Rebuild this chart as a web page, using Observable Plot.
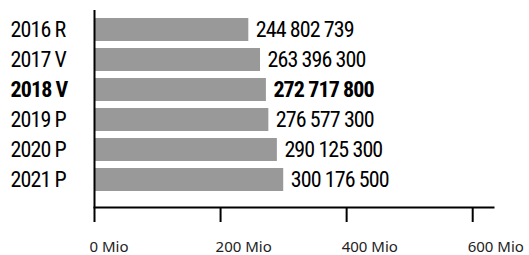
<!DOCTYPE html>
<html>
<head>
<meta charset="utf-8">
<script src="https://cdn.jsdelivr.net/npm/d3@7"></script>
<script src="https://cdn.jsdelivr.net/npm/@observablehq/plot@0.6"></script>
<style>
  html, body { margin: 0; padding: 0; background: #fff; }
  #chart svg g[aria-label="text"] text { font-stretch: condensed; letter-spacing: -0.9px; }
</style>
</head>
<body>
<div id="chart"></div>
<script>
const categories = ["2016 R", "2017 V", "2018 V", "2019 P", "2020 P", "2021 P"];
const values = [244802739, 263396300, 272717800, 276577300, 290125300, 300176500];
const highlighted = ["2018 V"];
const xTicks = [0, 200e6, 400e6, 600e6];

const data = categories.map((c, i) => ({cat: c, value: values[i], bold: highlighted.includes(c)}));
const fmt = v => d3.format(",")(v).replace(/,/g, " ");
const condensed = "Roboto, 'DejaVu Sans', sans-serif";

const chart = Plot.plot({
  width: 529,
  height: 255,
  marginLeft: 94,
  marginRight: 36,
  marginTop: 10,
  marginBottom: 48,
  style: {background: "#fff", overflow: "visible"},
  x: {domain: [0, 633e6], axis: null},
  y: {domain: categories, paddingInner: 0.24, paddingOuter: 0.362, align: 0.32, axis: null},
  marks: [
    Plot.barX(data, {x: "value", y: "cat", fill: "#999999"}),
    Plot.ruleX([0], {stroke: "#000", strokeWidth: 2}),
    Plot.frame({anchor: "bottom", stroke: "#000", strokeWidth: 2}),
    Plot.axisX({ticks: xTicks, tickSize: 15, strokeWidth: 2, stroke: "#000", label: null,
      tickFormat: () => ""}),
    Plot.axisX({ticks: xTicks, tickSize: 0, tickPadding: 34, label: null,
      tickFormat: d => (d / 1e6) + " Mio", fontSize: 15, fill: "#222", textAnchor: "start", dx: -5,
      fontFamily: "'Noto Sans', 'DejaVu Sans', sans-serif"}),
    Plot.text(data.filter(d => !d.bold), {y: "cat", text: "cat", frameAnchor: "left", textAnchor: "start", dx: -84,
      fontSize: 22, fontFamily: condensed, fill: "#000"}),
    Plot.text(data.filter(d => d.bold), {y: "cat", text: "cat", frameAnchor: "left", textAnchor: "start", dx: -84,
      fontSize: 22, fontWeight: "bold", fontFamily: condensed, fill: "#000"}),
    Plot.text(data.filter(d => !d.bold), {x: "value", y: "cat", text: d => fmt(d.value), textAnchor: "start", dx: 7,
      fontSize: 22, fontFamily: condensed, fill: "#000"}),
    Plot.text(data.filter(d => d.bold), {x: "value", y: "cat", text: d => fmt(d.value), textAnchor: "start", dx: 7,
      fontSize: 22, fontWeight: "bold", fontFamily: condensed, fill: "#000"})
  ]
});
document.getElementById("chart").appendChild(chart);
</script>
</body>
</html>
